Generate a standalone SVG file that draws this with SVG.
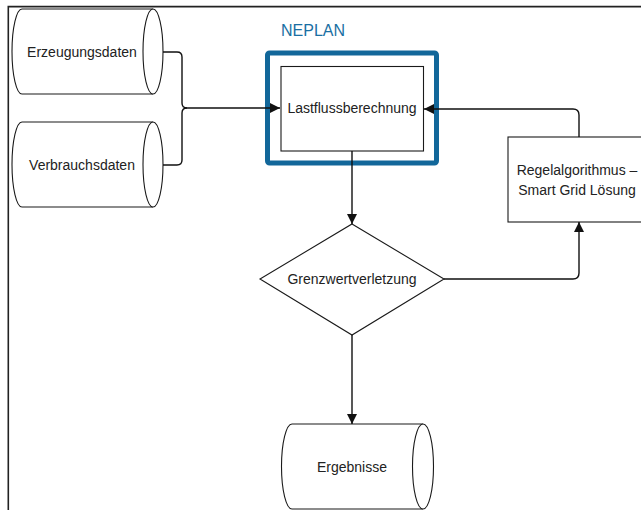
<svg xmlns="http://www.w3.org/2000/svg" width="641" height="510" viewBox="0 0 641 510">
<defs>
<style>
.shape{fill:#fff;stroke:#1a1a1a;stroke-width:1.1}
.conn{fill:none;stroke:#111;stroke-width:1.4}
.lbl{font-family:"Liberation Sans",Arial,sans-serif;font-size:14px;fill:#222;text-anchor:middle}
</style>
<marker id="arr" markerUnits="userSpaceOnUse" markerWidth="10" markerHeight="10" viewBox="0 0 10 10" refX="10" refY="5" orient="auto">
<path d="M0,0 L10,5 L0,10 Z" fill="#111"/>
</marker>
</defs>
<rect width="641" height="510" fill="#fff"/>
<path d="M8.3,520 V6.6 H660" fill="none" stroke="#222" stroke-width="1.6"/>
<g id="erzeugungsdaten">
<path class="shape" d="M22,9 H153 A10,42.5 0 0 1 153,94 H22 A10,42.5 0 0 1 22,9 Z"/>
<path class="shape" d="M153,9 A10,42.5 0 0 0 153,94" fill="none"/>
<text class="lbl" x="82" y="57">Erzeugungsdaten</text>
</g>
<g id="verbrauchsdaten">
<path class="shape" d="M22,122 H153 A10,42.5 0 0 1 153,207 H22 A10,42.5 0 0 1 22,122 Z"/>
<path class="shape" d="M153,122 A10,42.5 0 0 0 153,207" fill="none"/>
<text class="lbl" x="82" y="170">Verbrauchsdaten</text>
</g>
<g id="neplan">
<rect x="267.5" y="53" width="169" height="110" rx="2" fill="none" stroke="#12679a" stroke-width="5"/>
<text x="313" y="35.5" font-family="'Liberation Sans',Arial,sans-serif" font-size="16" fill="#1a6fa3" text-anchor="middle">NEPLAN</text>
</g>
<g id="lastfluss">
<rect class="shape" x="281" y="66.5" width="142.5" height="84.5"/>
<text class="lbl" x="352" y="113">Lastflussberechnung</text>
</g>
<g id="regelalgorithmus">
<rect class="shape" x="508" y="137" width="145" height="85"/>
<text class="lbl" x="577" y="175">Regelalgorithmus –</text>
<text class="lbl" x="577" y="194.5">Smart Grid Lösung</text>
</g>
<g id="grenzwert">
<path class="shape" d="M352,224 L444,279 L352,335 L260,279 Z"/>
<text class="lbl" x="352" y="284">Grenzwertverletzung</text>
</g>
<g id="ergebnisse">
<path class="shape" d="M292,424 H423 A10.5,42.5 0 0 1 423,509 H292 A10.5,42.5 0 0 1 292,424 Z"/>
<path class="shape" d="M423,424 A10.5,42.5 0 0 0 423,509" fill="none"/>
<text class="lbl" x="352" y="472">Ergebnisse</text>
</g>
<g id="connectors">
<path class="conn" d="M163,52 H177 Q182,52 182,57 V103 Q182,108 187,108 H280" marker-end="url(#arr)"/>
<path class="conn" d="M163,165 H177 Q182,165 182,160 V113 Q182,108 187,108"/>
<path class="conn" d="M579,137 V115 Q579,109 573,109 H424" marker-end="url(#arr)"/>
<path class="conn" d="M352,151 V224" marker-end="url(#arr)"/>
<path class="conn" d="M444,279 H573 Q579,279 579,273 V222" marker-end="url(#arr)"/>
<path class="conn" d="M352,335 V424" marker-end="url(#arr)"/>
</g>
</svg>
